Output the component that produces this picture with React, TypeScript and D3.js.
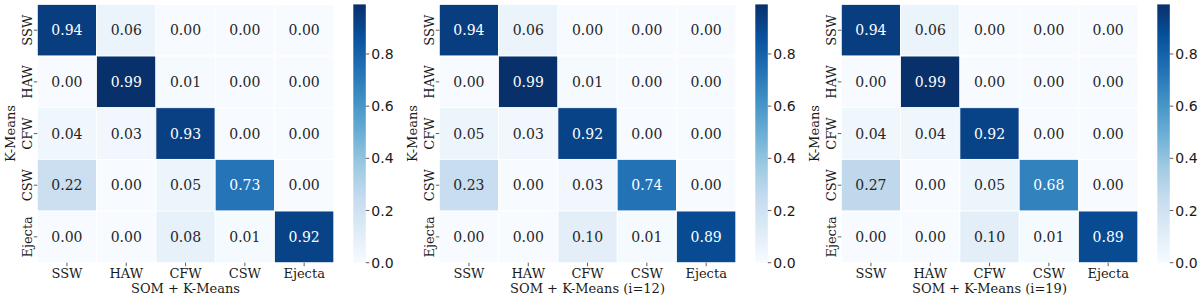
import React from 'react';
import * as d3 from 'd3';

// class labels shared by both axes
const classes = ['SSW', 'HAW', 'CFW', 'CSW', 'Ejecta'];

// confusion matrices (rows = K-Means, cols = SOM + K-Means)
const matrixBase = [
    [0.94, 0.06, 0.00, 0.00, 0.00],
    [0.00, 0.99, 0.01, 0.00, 0.00],
    [0.04, 0.03, 0.93, 0.00, 0.00],
    [0.22, 0.00, 0.05, 0.73, 0.00],
    [0.00, 0.00, 0.08, 0.01, 0.92],
];
const matrixI12 = [
    [0.94, 0.06, 0.00, 0.00, 0.00],
    [0.00, 0.99, 0.01, 0.00, 0.00],
    [0.05, 0.03, 0.92, 0.00, 0.00],
    [0.23, 0.00, 0.03, 0.74, 0.00],
    [0.00, 0.00, 0.10, 0.01, 0.89],
];
const matrixI19 = [
    [0.94, 0.06, 0.00, 0.00, 0.00],
    [0.00, 0.99, 0.00, 0.00, 0.00],
    [0.04, 0.04, 0.92, 0.00, 0.00],
    [0.27, 0.00, 0.05, 0.68, 0.00],
    [0.00, 0.00, 0.10, 0.01, 0.89],
];
const panelTitles = ['SOM + K-Means', 'SOM + K-Means (i=12)', 'SOM + K-Means (i=19)'];
const colorbarTicks = [0.0, 0.2, 0.4, 0.6, 0.8];

const matrices = [matrixBase, matrixI12, matrixI19];

// matplotlib "Blues" = linear interpolation through the brewer colours
const bluesStops = ['#f7fbff', '#deebf7', '#c6dbef', '#9ecae1', '#6baed6', '#4292c6', '#2171b5', '#08519c', '#08306b'];
const blues = d3.scaleLinear<string>()
    .domain(bluesStops.map((_, i) => i / (bluesStops.length - 1)))
    .range(bluesStops)
    .interpolate(d3.interpolateRgb)
    .clamp(true);

const serif = '"DejaVu Serif", serif';
const sans = '"DejaVu Sans", sans-serif';
const labelSize = 13;
const annotSize = 14;
const cbSize = 14;

// seaborn picks text colour from the cell luminance
function luminance(c: string) {
    const rgb = d3.rgb(c);
    const lin = [rgb.r, rgb.g, rgb.b].map(v => {
        v = v / 255;
        return v <= 0.03928 ? v / 12.92 : Math.pow((v + 0.055) / 1.055, 2.4);
    });
    return 0.2126 * lin[0] + 0.7152 * lin[1] + 0.0722 * lin[2];
}

const panelLeft = [37.3, 439.3, 841.3];
const top = 4.4;
const mapWidth = 296.5;
const mapHeight = 258.3;
const cbOffset = 316;
const cbWidth = 12.5;

function Heatmap({ data, title, left, idx }: { data: number[][]; title: string; left: number; idx: number }) {
    const vmax = d3.max(data.flat()) as number;
    const norm = (v: number) => v / vmax;

    const x = d3.scaleBand().domain(classes).range([left, left + mapWidth]);
    const y = d3.scaleBand().domain(classes).range([top, top + mapHeight]);
    const cbY = d3.scaleLinear().domain([0, vmax]).range([top + mapHeight, top]);
    const cbX = left + cbOffset;
    const gradId = 'cbgrad' + idx;

    return (
        <g>
            {data.map((row, r) =>
                row.map((v, c) => {
                    const fill = blues(norm(v));
                    const textFill = luminance(fill) < 0.408 ? '#ffffff' : '#262626';
                    return (
                        <g key={r + '-' + c}>
                            <rect x={x(classes[c])} y={y(classes[r])}
                                width={x.bandwidth()} height={y.bandwidth()}
                                fill={fill} stroke="#ffffff" strokeWidth={0.8} />
                            <text x={(x(classes[c]) as number) + x.bandwidth() / 2}
                                y={(y(classes[r]) as number) + y.bandwidth() / 2}
                                dy="0.36em" textAnchor="middle" fill={textFill}
                                fontFamily={serif} fontSize={annotSize}>
                                {v.toFixed(2)}
                            </text>
                        </g>
                    );
                })
            )}

            {/* x axis */}
            {classes.map(cl => {
                const cx = (x(cl) as number) + x.bandwidth() / 2;
                return (
                    <g key={'xt' + cl}>
                        <line x1={cx} x2={cx} y1={top + mapHeight} y2={top + mapHeight + 3.5} stroke="#333" strokeWidth={0.8} />
                        <text x={cx} y={top + mapHeight + 15.2} textAnchor="middle"
                            fontFamily={serif} fontSize={labelSize} fill="#1a1a1a">{cl}</text>
                    </g>
                );
            })}
            <text x={left + mapWidth / 2} y={292.8} textAnchor="middle"
                fontFamily={serif} fontSize={labelSize} fill="#1a1a1a">{title}</text>

            {/* y axis */}
            {classes.map(cl => {
                const cy = (y(cl) as number) + y.bandwidth() / 2;
                return (
                    <g key={'yt' + cl}>
                        <line x1={left - 3.5} x2={left} y1={cy} y2={cy} stroke="#333" strokeWidth={0.8} />
                        <text transform={`translate(${left - 5.3},${cy}) rotate(-90)`} textAnchor="middle"
                            fontFamily={serif} fontSize={labelSize} fill="#1a1a1a">{cl}</text>
                    </g>
                );
            })}
            <text transform={`translate(${left - 22.3},${top + mapHeight / 2}) rotate(-90)`} textAnchor="middle"
                fontFamily={serif} fontSize={labelSize} fill="#1a1a1a">K-Means</text>

            {/* colorbar */}
            <defs>
                <linearGradient id={gradId} x1="0" y1="1" x2="0" y2="0">
                    {bluesStops.map((s, i) => (
                        <stop key={i} offset={i / (bluesStops.length - 1)} stopColor={s} />
                    ))}
                </linearGradient>
            </defs>
            <rect x={cbX} y={top} width={cbWidth} height={mapHeight} fill={`url(#${gradId})`} />
            {colorbarTicks.map(t => (
                <g key={'cb' + t}>
                    <line x1={cbX + cbWidth} x2={cbX + cbWidth + 3.5} y1={cbY(t)} y2={cbY(t)} stroke="#333" strokeWidth={0.8} />
                    <text x={cbX + cbWidth + 5.5} y={cbY(t)} dy="0.36em"
                        fontFamily={sans} fontSize={cbSize} fill="#1a1a1a">{t.toFixed(1)}</text>
                </g>
            ))}
        </g>
    );
}

const App = () => {
    return (
        <svg width={1200} height={301} style={{ position: 'absolute', left: 0, top: 0, background: '#fff' }}>
            {matrices.map((m, i) => (
                <Heatmap key={i} data={m} title={panelTitles[i]} left={panelLeft[i]} idx={i} />
            ))}
        </svg>
    );
};

export default App;
